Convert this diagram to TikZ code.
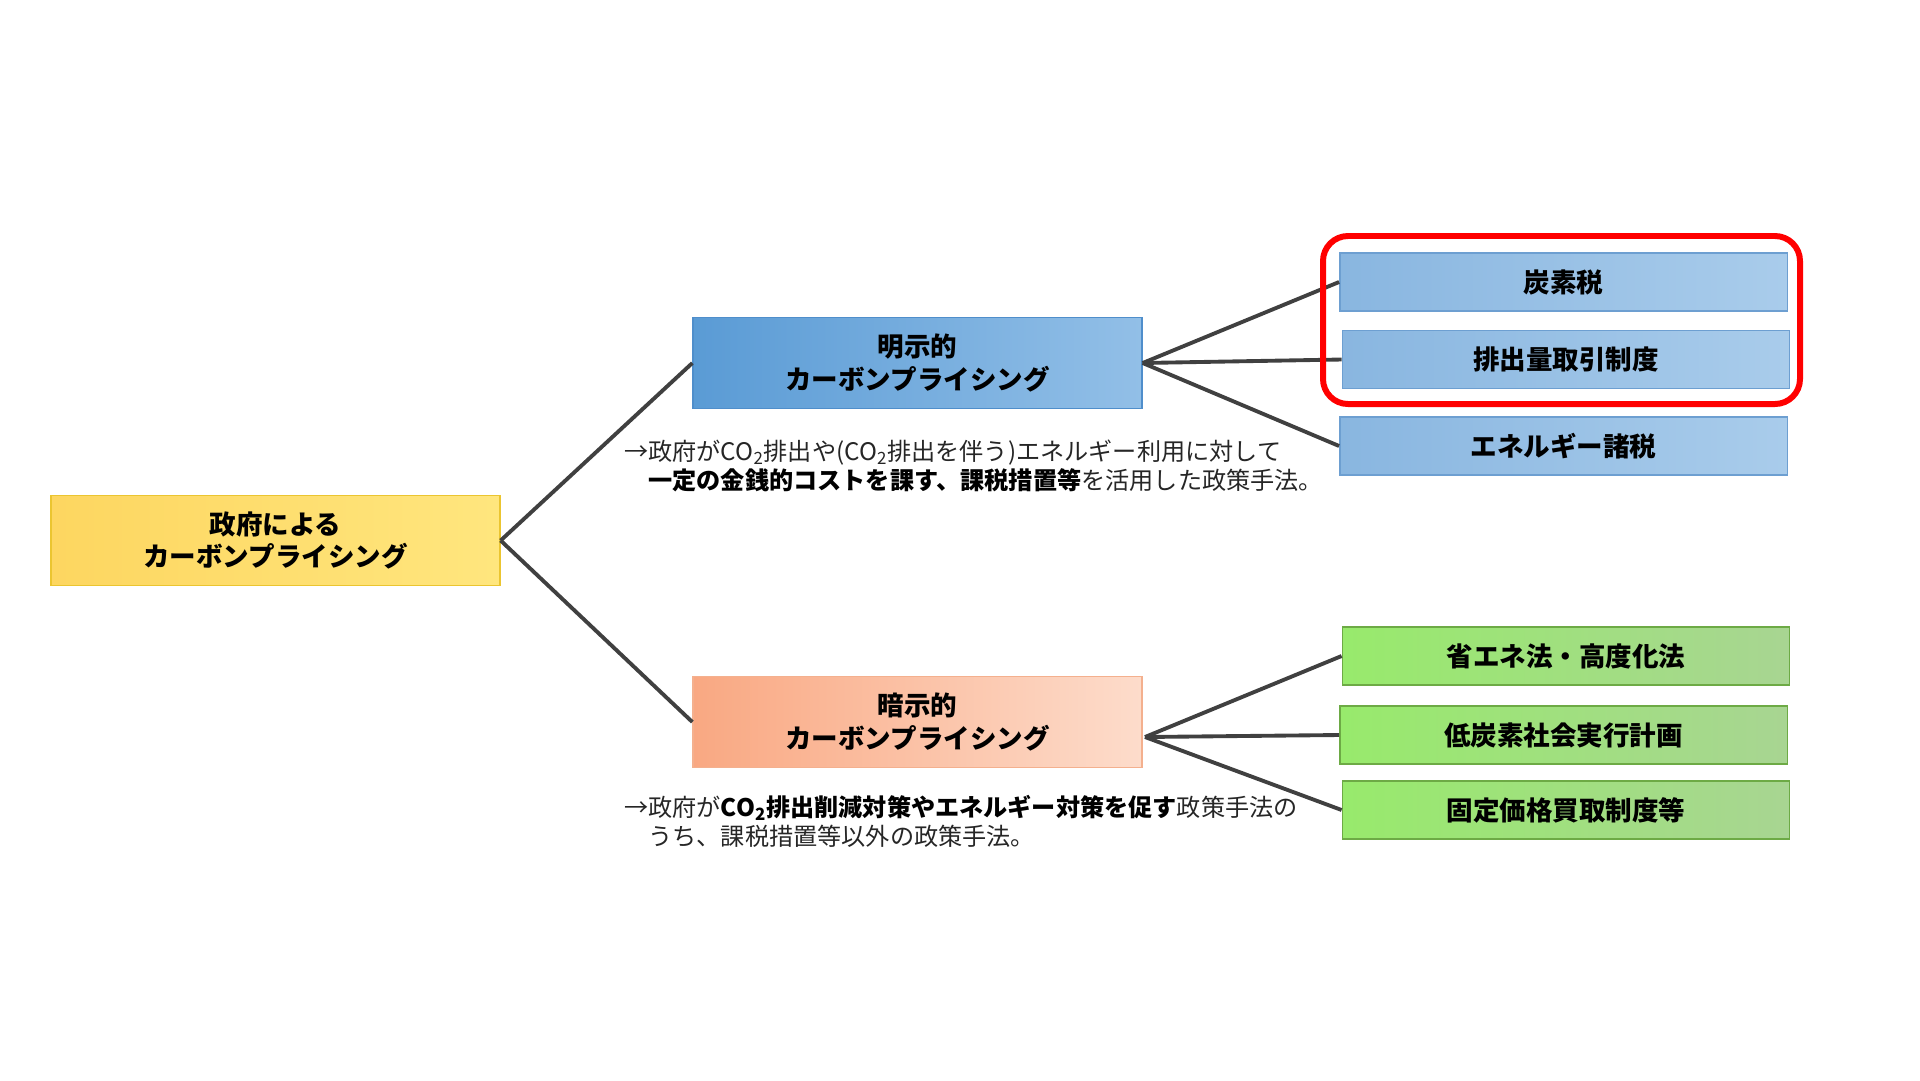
\documentclass[tikz,border=0pt]{standalone}
\usepackage{fontspec}
\setmainfont{Noto Sans CJK JP}
\usepackage{tikz}

\definecolor{linegray}{HTML}{404040}
\definecolor{textgray}{HTML}{262626}
\definecolor{yellowL}{HTML}{FDD660}
\definecolor{yellowR}{HTML}{FFE67E}
\definecolor{yellowB}{HTML}{EBC530}
\definecolor{blueL}{HTML}{5A9BD5}
\definecolor{blueR}{HTML}{92BFE7}
\definecolor{blueB}{HTML}{4F8ECB}
\definecolor{salmonL}{HTML}{F9A882}
\definecolor{salmonR}{HTML}{FDDCCB}
\definecolor{salmonB}{HTML}{F4B08E}
\definecolor{skyL}{HTML}{89B6E0}
\definecolor{skyR}{HTML}{A9CCEB}
\definecolor{skyB}{HTML}{6D9FD1}
\definecolor{greenL}{HTML}{98EA6C}
\definecolor{greenR}{HTML}{A8D592}
\definecolor{greenB}{HTML}{6DAA45}

\begin{document}
\begin{tikzpicture}[x=0.02cm, y=-0.02cm,
    box/.style={draw, line width=0.8pt, inner sep=0pt, align=center,
        font=\fontsize{15.1pt}{18.7pt}\selectfont\bfseries},
    bigbox/.style={box, minimum width=8.98cm, minimum height=1.81cm},
    itembox/.style={box, minimum width=8.95cm, minimum height=1.16cm},
    branch/.style={draw=linegray, line width=2.2pt},
    note/.style={anchor=west, inner sep=0pt, align=left, text=textgray,
        font=\fontsize{13.75pt}{16.4pt}\selectfont},
    redframe/.style={draw=red, line width=3.4pt, rounded corners=0.5cm}]
    \useasboundingbox (0,0) rectangle (1920,1080);

    % Arrel
    \node[bigbox, draw=yellowB, left color=yellowL, right color=yellowR]
        (root) at (275.5,540.5) {政府による\\カーボンプライシング};

    % Explicit / implicit
    \node[bigbox, draw=blueB, left color=blueL, right color=blueR]
        (explicit) at (917.5,363) {明示的\\カーボンプライシング};
    \node[bigbox, draw=salmonB, left color=salmonL, right color=salmonR]
        (implicit) at (917.5,722) {暗示的\\カーボンプライシング};
    \coordinate (implicit-hub) at (1145,737);

    % Notes
    \node[note] (explicit-note) at (624,466)
        {→政府がCO\textsubscript{2}排出や(CO\textsubscript{2}排出を伴う)エネルギー利用に対して\\
         \hspace*{1em}\textbf{\color{black}一定の金銭的コストを課す、課税措置等}を活用した政策手法。};
    \node[note] (implicit-note) at (624,821)
        {→政府が\textbf{\color{black}CO\textsubscript{2}排出削減対策やエネルギー対策を促す}政策手法の\\
         \hspace*{1em}うち、課税措置等以外の政策手法。};

    % Items
    \node[itembox, draw=skyB, left color=skyL, right color=skyR]
        (carbon-tax) at (1563.5,282) {炭素税};
    \node[itembox, draw=skyB, left color=skyL, right color=skyR]
        (ets) at (1566,359.5) {排出量取引制度};
    \node[itembox, draw=skyB, left color=skyL, right color=skyR]
        (energy-tax) at (1563.5,446) {エネルギー諸税};
    \node[itembox, draw=greenB, left color=greenL, right color=greenR]
        (energy-law) at (1566,656) {省エネ法・高度化法};
    \node[itembox, draw=greenB, left color=greenL, right color=greenR]
        (action-plan) at (1563.5,735) {低炭素社会実行計画};
    \node[itembox, draw=greenB, left color=greenL, right color=greenR]
        (fit) at (1566,810) {固定価格買取制度等};

    % Branques
    \draw[branch] (root.east) -- (explicit.west);
    \draw[branch] (root.east) -- (implicit.west);
    \draw[branch] (explicit.east) -- (carbon-tax.west);
    \draw[branch] (explicit.east) -- (ets.west);
    \draw[branch] (explicit.east) -- (energy-tax.west);
    \draw[branch] (implicit-hub) -- (energy-law.west);
    \draw[branch] (implicit-hub) -- (action-plan.west);
    \draw[branch] (implicit-hub) -- (fit.west);

    % Marc vermell
    \draw[redframe] (1323,236) rectangle (1800,404);
\end{tikzpicture}
\end{document}
